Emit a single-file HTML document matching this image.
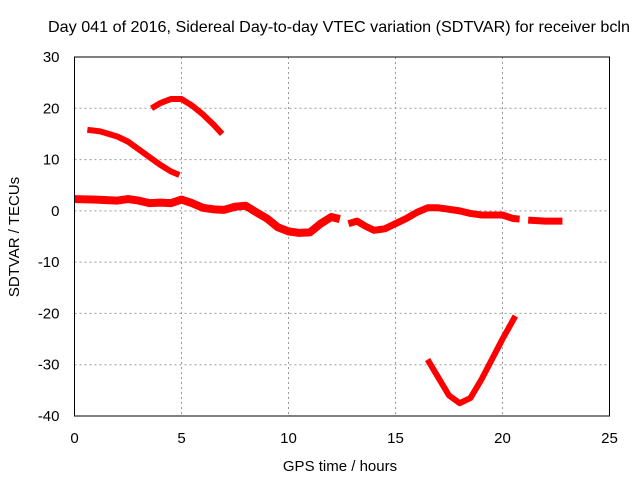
<!DOCTYPE html>
<html><head><meta charset="utf-8"><style>body{margin:0;background:#fff}svg{display:block;font-family:"Liberation Sans",sans-serif}</style></head>
<body>
<svg id="chart" width="640" height="480" viewBox="0 0 640 480">
<rect width="640" height="480" fill="#fff"/>
<g id="grid"></g>
<g id="series"></g>
<rect x="74.5" y="57" width="535" height="359" fill="none" stroke="#000" stroke-width="1"/>
<g id="ticks" font-size="15" fill="#000"></g>
<text x="339" y="32" font-size="16" text-anchor="middle" textLength="582" lengthAdjust="spacingAndGlyphs">Day 041 of 2016, Sidereal Day-to-day VTEC variation (SDTVAR) for receiver bcln</text>
<text x="340" y="471" font-size="15" text-anchor="middle">GPS time / hours</text>
<text transform="translate(19,237) rotate(-90)" font-size="15" text-anchor="middle">SDTVAR / TECUs</text>
</svg>
<script>
const xTicks=[0,5,10,15,20,25];
const yTicks=[30,20,10,0,-10,-20,-30,-40];
const arcTopX=[3.6,4,4.5,5,5.5,6,6.5,6.9];
const arcTopY=[20,21,21.8,21.8,20.5,18.8,16.8,15];
const descX=[0.6,1.2,2,2.5,3,3.5,4,4.5,4.9];
const descY=[15.8,15.5,14.5,13.5,12,10.5,9,7.7,7];
const main1X=[0,1,2,2.5,3,3.5,4,4.5,5,5.5,6,6.5,7,7.5,8,8.5,9,9.5,10,10.5,11,11.5,12,12.4];
const main1Y=[2.3,2.2,2,2.3,2,1.5,1.6,1.5,2.2,1.5,0.6,0.3,0.2,0.8,1,-0.3,-1.5,-3.2,-4,-4.3,-4.2,-2.5,-1.2,-1.6];
const main2X=[12.8,13.2,13.6,14,14.5,15,15.5,16,16.5,17,17.5,18,18.5,19,19.5,20,20.5,20.8];
const main2Y=[-2.5,-2,-3,-3.8,-3.5,-2.5,-1.5,-0.3,0.6,0.6,0.3,0,-0.5,-0.8,-0.8,-0.8,-1.5,-1.6];
const main3X=[21.2,22,22.8];
const main3Y=[-1.8,-2,-2];
const vX=[16.5,17,17.5,18,18.5,19,19.5,20,20.6];
const vY=[-29,-32.5,-36,-37.5,-36.5,-33,-29,-25,-20.5];
const X0=74.5,X1=609.5,Y0=416,Y1=57;
const sx=v=>X0+(v-0)/(25-0)*(X1-X0);
const sy=v=>Y0-(v+40)/70*(Y0-Y1);
const NS="http://www.w3.org/2000/svg";
const grid=document.getElementById('grid'),ticks=document.getElementById('ticks'),ser=document.getElementById('series');
function mk(t,a){const e=document.createElementNS(NS,t);for(const k in a)e.setAttribute(k,a[k]);return e;}
xTicks.forEach(v=>{const x=sx(v);
 if(v>0&&v<25){const l=mk('line',{x1:x,x2:x,y1:Y1,y2:Y0,stroke:'#999','stroke-dasharray':'2,3'});grid.appendChild(l);}
 const t=mk('text',{x:x,y:Y0+27,'text-anchor':'middle'});t.textContent=v;ticks.appendChild(t);});
yTicks.forEach(v=>{const y=sy(v);
 if(v>-40&&v<30){const l=mk('line',{x1:X0,x2:X1,y1:y,y2:y,stroke:'#999','stroke-dasharray':'2,3'});grid.appendChild(l);}
 const t=mk('text',{x:X0-15,y:y+5,'text-anchor':'end'});t.textContent=v;ticks.appendChild(t);});
function line(xs,ys,w,name){const p=mk('polyline',{points:xs.map((x,i)=>sx(x)+','+sy(ys[i])).join(' '),fill:'none',stroke:'#f00','stroke-width':w,'stroke-linejoin':'round','stroke-linecap':'butt'});
 
 
 ser.appendChild(p);}
line(arcTopX,arcTopY,6,'series-arc-top');
line(descX,descY,6,'series-descending');
line(main1X,main1Y,8,'series-main-1');
line(main2X,main2Y,7,'series-main-2');
line(main3X,main3Y,7,'series-main-3');
line(vX,vY,6,'series-v-curve');
</script>
</body></html>
